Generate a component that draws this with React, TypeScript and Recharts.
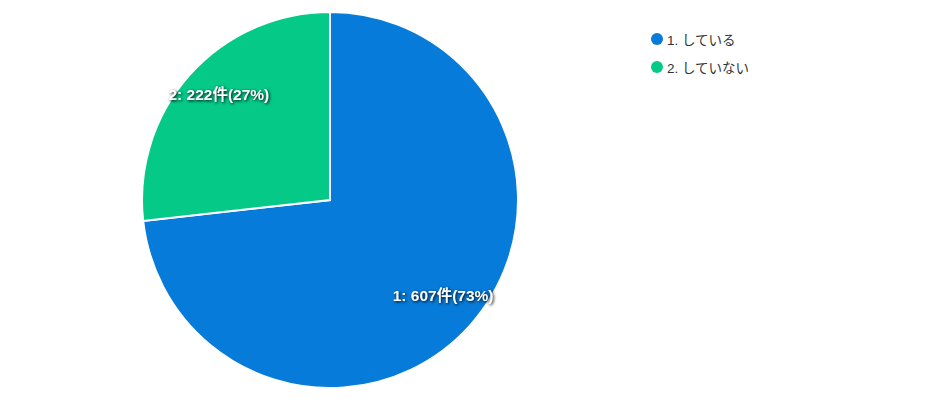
import { PieChart, Pie, Cell, Legend } from 'recharts';

const categories = ['1. している', '2. していない'];
const labelNames = ['1', '2'];
const counts = [607, 222];
const colors = ['#077bda', '#04c987'];

const data = categories.map((name, i) => ({ name, short: labelNames[i], value: counts[i], color: colors[i] }));
const total = counts.reduce((a, b) => a + b, 0);

const RAD = Math.PI / 180;

function SliceLabel({ cx, cy, midAngle, outerRadius, index }: any) {
  const r = outerRadius * 0.8;
  const x = cx + r * Math.cos(-midAngle * RAD) + 1;
  const y = cy + r * Math.sin(-midAngle * RAD) - 5;
  const d = data[index];
  const pct = Math.round((d.value / total) * 100);
  return (
    <text
      x={x}
      y={y}
      fill="#fff"
      textAnchor="middle"
      dominantBaseline="central"
      fontSize={15.5}
      fontWeight="bold"
      fontFamily="Arial, 'Noto Sans CJK JP', sans-serif"
      style={{ filter: 'drop-shadow(1px 1px 1.5px rgba(0,0,0,0.9))' }}
    >
      {`${d.short}: ${d.value}件(${pct}%)`}
    </text>
  );
}

function LegendList() {
  return (
    <div style={{ fontFamily: "Arial, 'Noto Sans CJK JP', sans-serif", fontSize: 13.5, color: '#333' }}>
      {data.map((d) => (
        <div key={d.name} style={{ display: 'flex', alignItems: 'center', height: 28 }}>
          <span
            style={{ width: 12, height: 12, borderRadius: 6, background: d.color, marginRight: 4, display: 'inline-block' }}
          />
          <span>{d.name}</span>
        </div>
      ))}
    </div>
  );
}

export default function App() {
  return (
    <div style={{ position: 'absolute', left: 0, top: 0, width: 943, height: 402, background: '#fff' }}>
      <PieChart width={943} height={402} margin={{ top: 0, right: 0, bottom: 0, left: 0 }}>
        <Pie
          data={data}
          dataKey="value"
          cx={330}
          cy={200}
          outerRadius={188}
          startAngle={90}
          endAngle={-270}
          stroke="#fff"
          strokeWidth={2}
          labelLine={false}
          label={SliceLabel}
          isAnimationActive={false}
        >
          {data.map((d) => (
            <Cell key={d.name} fill={d.color} />
          ))}
        </Pie>
        <Legend
          content={<LegendList />}
          wrapperStyle={{ position: 'absolute', left: 651, top: 25, width: 200 }}
        />
      </PieChart>
    </div>
  );
}
